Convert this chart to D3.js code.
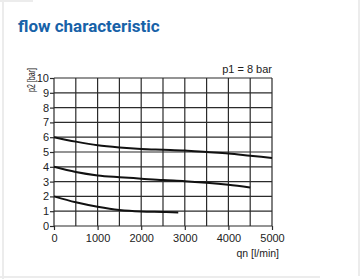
<!DOCTYPE html>
<html>
<head>
<meta charset="utf-8">
<script src="https://cdn.jsdelivr.net/npm/d3@7"></script>
<style>
  body { margin: 0; background: #fff; }
  svg { display: block; }
  .tick text { font-family: "Liberation Sans", Arial, sans-serif; }
</style>
</head>
<body>
<svg id="chart" width="360" height="279"></svg>
<script>
// flow characteristic, p1 = 8 bar
var xTicks = [0, 1000, 2000, 3000, 4000, 5000];
var yTicks = [0, 1, 2, 3, 4, 5, 6, 7, 8, 9, 10];

// p2 set to 6 bar
var qn6 = [0, 500, 1000, 1500, 2000, 2500, 3000, 3500, 4000, 4500, 5000];
var p6  = [6.0, 5.7, 5.45, 5.3, 5.2, 5.15, 5.1, 5.0, 4.9, 4.75, 4.6];
// p2 set to 4 bar
var qn4 = [0, 500, 1000, 1500, 2000, 2500, 3000, 3500, 4000, 4500];
var p4  = [4.0, 3.65, 3.42, 3.3, 3.2, 3.1, 3.03, 2.92, 2.78, 2.6];
// p2 set to 2 bar
var qn2 = [0, 500, 1000, 1500, 2000, 2500, 2850];
var p2  = [2.0, 1.6, 1.3, 1.08, 0.98, 0.95, 0.92];

var svg = d3.select("#chart");

// card frame
svg.append("rect").attr("x", 0).attr("y", 0).attr("width", 33).attr("height", 2).attr("fill", "#ececec");
svg.append("rect").attr("x", 2).attr("y", 0).attr("width", 2).attr("height", 279).attr("fill", "#ececec");
svg.append("rect").attr("x", 0).attr("y", 276).attr("width", 320).attr("height", 2).attr("fill", "#ececec");
svg.append("rect").attr("x", 358).attr("y", 0).attr("width", 2).attr("height", 276).attr("fill", "#ececec");

svg.append("text")
  .attr("x", 18).attr("y", 32)
  .attr("font-family", "Roboto, Arial, sans-serif")
  .attr("font-weight", "bold")
  .attr("font-size", 17)
  .attr("fill", "#1762a8")
  .text("flow characteristic");

var x = d3.scaleLinear().domain([0, 5000]).range([54, 272]);
var y = d3.scaleLinear().domain([0, 10]).range([226, 78]);

var g = svg.append("g");

// grid
g.selectAll(".vgrid").data(d3.range(0, 5001, 500)).join("line")
  .attr("x1", function(d) { return x(d); }).attr("x2", function(d) { return x(d); })
  .attr("y1", y(0)).attr("y2", y(10))
  .attr("stroke", "#2b2b2b").attr("stroke-width", 1.2);
g.selectAll(".hgrid").data(yTicks).join("line")
  .attr("x1", x(0)).attr("x2", x(5000))
  .attr("y1", function(d) { return y(d); }).attr("y2", function(d) { return y(d); })
  .attr("stroke", "#2b2b2b").attr("stroke-width", 1.2);

// axes
var xAxis = svg.append("g").attr("transform", "translate(0," + y(0) + ")")
  .call(d3.axisBottom(x).tickValues(xTicks).tickSize(4).tickPadding(4).tickFormat(d3.format("d")));
var yAxis = svg.append("g").attr("transform", "translate(" + x(0) + ",0)")
  .call(d3.axisLeft(y).tickValues(yTicks).tickSize(4).tickPadding(1).tickFormat(d3.format("d")));
[xAxis, yAxis].forEach(function(a) {
  a.select(".domain").remove();
  a.selectAll(".tick line").attr("stroke", "#2b2b2b").attr("stroke-width", 1.2);
  a.selectAll(".tick text").attr("font-size", 11).attr("fill", "#222");
});

// curves
var line = d3.line().curve(d3.curveMonotoneX)
  .x(function(d) { return x(d[0]); })
  .y(function(d) { return y(d[1]); });
[[qn6, p6], [qn4, p4], [qn2, p2]].forEach(function(s) {
  g.append("path")
    .datum(d3.zip(s[0], s[1]))
    .attr("d", line)
    .attr("fill", "none")
    .attr("stroke", "#111")
    .attr("stroke-width", 2);
});

// labels
svg.append("text")
  .attr("x", 272).attr("y", 73)
  .attr("text-anchor", "end")
  .attr("font-family", "'Liberation Sans', Arial, sans-serif")
  .attr("font-size", 11).attr("fill", "#222")
  .text("p1 = 8 bar");
svg.append("text")
  .attr("x", 279).attr("y", 257)
  .attr("text-anchor", "end")
  .attr("font-family", "'Liberation Sans', Arial, sans-serif")
  .attr("font-size", 10.5).attr("fill", "#222")
  .text("qn [l/min]");
svg.append("text")
  .attr("transform", "translate(35,92) rotate(-90)")
  .attr("font-family", "'Liberation Sans', Arial, sans-serif")
  .attr("font-size", 10).attr("fill", "#222")
  .attr("textLength", 24).attr("lengthAdjust", "spacingAndGlyphs")
  .text("p2 [bar]");
</script>
</body>
</html>
